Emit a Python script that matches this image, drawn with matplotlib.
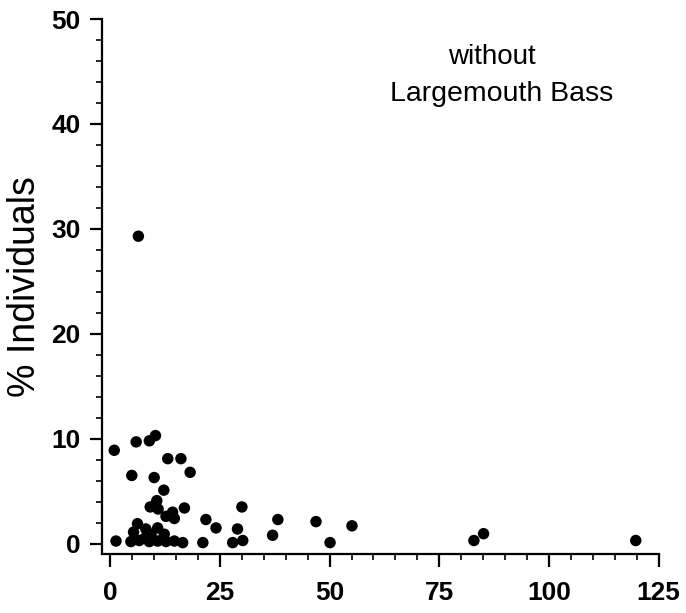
import matplotlib.pyplot as plt
from matplotlib.ticker import MultipleLocator

plt.rcParams['font.family'] = ['Liberation Sans', 'DejaVu Sans']

# density values (x) and % individuals (y)
dens = [0.9, 5.9, 8.9, 10.3, 13.1, 16.1, 18.2, 4.9, 10.0, 12.2,
        10.6, 9.1, 10.9, 14.2, 16.9, 12.7, 14.6, 6.2, 8.1, 10.8,
        5.3, 9.3, 12.3, 1.3, 4.7, 6.6, 8.9, 10.8, 12.7, 14.6,
        16.5, 21.1, 21.8, 24.1, 27.9, 29.0, 30.2, 30.0, 37.0, 38.2,
        46.9, 50.1, 55.1, 82.9, 85.1, 119.8, 6.4, 7.8]
pct = [8.9, 9.7, 9.8, 10.3, 8.1, 8.1, 6.8, 6.5, 6.3, 5.1,
       4.1, 3.5, 3.3, 3.0, 3.4, 2.6, 2.4, 1.9, 1.4, 1.5,
       1.1, 0.9, 0.9, 0.25, 0.2, 0.3, 0.2, 0.25, 0.2, 0.25,
       0.1, 0.1, 2.3, 1.5, 0.1, 1.4, 0.3, 3.5, 0.8, 2.3,
       2.1, 0.1, 1.7, 0.3, 0.95, 0.3, 29.3, 0.5]

fig = plt.figure(figsize=(6.86, 6.13), dpi=100)
ax = fig.add_axes([0.148, 0.096, 0.812, 0.873])

ax.scatter(dens, pct, s=68, color='black', edgecolors='none', zorder=3)

ax.set_xlim(-2, 125)
ax.set_ylim(-1, 50)
ax.xaxis.set_major_locator(MultipleLocator(25))
ax.xaxis.set_minor_locator(MultipleLocator(5))
ax.yaxis.set_major_locator(MultipleLocator(10))
ax.yaxis.set_minor_locator(MultipleLocator(2))

for side in ['top', 'right']:
    ax.spines[side].set_visible(False)
for side in ['left', 'bottom']:
    ax.spines[side].set_linewidth(1.6)

ax.tick_params(which='major', direction='out', length=9, width=1.6,
               labelsize=19, pad=6)
ax.tick_params(which='minor', direction='out', length=4.5, width=1.2)
ax.tick_params(axis='x', pad=10)
for lab in ax.get_xticklabels() + ax.get_yticklabels():
    lab.set_fontweight('bold')

ax.set_ylabel('% Individuals', fontsize=27, labelpad=6)

ax.text(0.70, 0.916, 'without', transform=ax.transAxes, fontsize=20,
        ha='center', va='baseline')
ax.text(0.718, 0.847, 'Largemouth Bass', transform=ax.transAxes,
        fontsize=20.5, ha='center', va='baseline')

fig.savefig('out.png', dpi=100)
